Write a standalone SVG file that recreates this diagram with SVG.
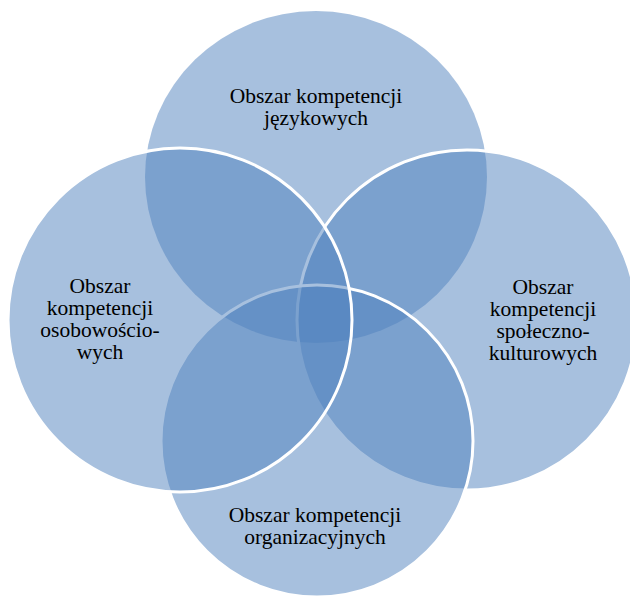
<svg xmlns="http://www.w3.org/2000/svg" width="630" height="599" viewBox="0 0 630 599">
<style>
.c{fill:rgba(79,129,189,0.5);stroke:#fff;stroke-width:3}
.t{fill:#4f81bd;fill-opacity:0.5}
text{font-family:"Liberation Serif","Times New Roman",serif;font-size:21.5px;fill:#000;text-anchor:middle}
</style>
<rect width="630" height="599" fill="#fff"/>
<g id="top"><ellipse class="t" cx="316" cy="177" rx="171" ry="166"/></g>
<g id="right"><circle class="c" cx="467" cy="320" r="170"/></g>
<g id="bottom"><ellipse class="c" cx="317" cy="441" rx="156" ry="156"/></g>
<g id="left"><circle class="c" cx="180" cy="320" r="172"/></g>
<g id="connectors"></g>
<g id="labels">
<text x="316" y="103">Obszar kompetencji</text>
<text x="316" y="125">językowych</text>
<text x="100" y="293">Obszar</text>
<text x="100" y="315">kompetencji</text>
<text x="100" y="337">osobowościo-</text>
<text x="100" y="359">wych</text>
<text x="543" y="294">Obszar</text>
<text x="543" y="316">kompetencji</text>
<text x="543" y="338">społeczno-</text>
<text x="543" y="360">kulturowych</text>
<text x="315" y="522">Obszar kompetencji</text>
<text x="315" y="544">organizacyjnych</text>
</g>
</svg>
